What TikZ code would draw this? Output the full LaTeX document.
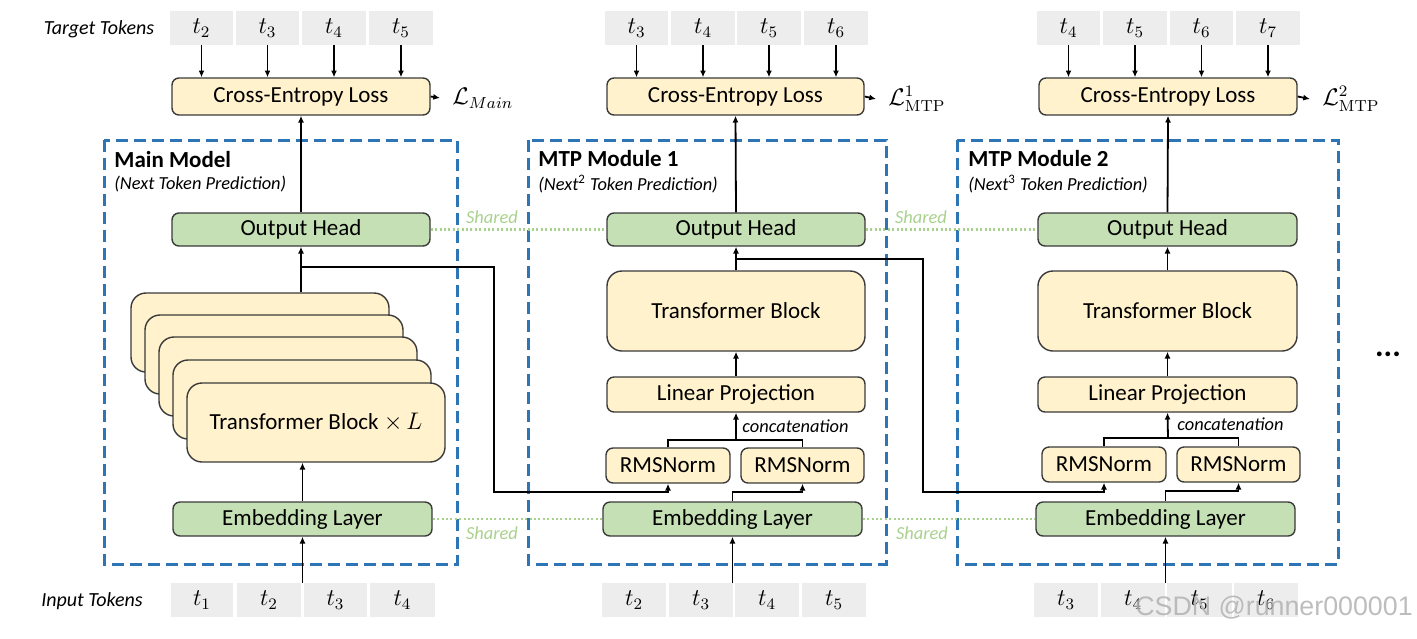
\documentclass[tikz,border=0pt]{standalone}
\usepackage[no-math]{fontspec}
\setmainfont{Carlito}
\newfontfamily\wmfont{Liberation Sans}
\usetikzlibrary{arrows.meta}
\definecolor{yel}{HTML}{FFF2CC}
\definecolor{grn}{HTML}{C5E0B4}
\definecolor{tok}{HTML}{EDEDED}
\definecolor{blu}{HTML}{2E75B6}
\definecolor{shr}{HTML}{A9D18E}
\definecolor{edg}{HTML}{3A3A3A}
\tikzset{
  pos/.style n args={4}{at={({(#1+#3)/2},{(#2+#4)/2})}, minimum width={(#3-#1)*0.5pt}, minimum height={(#4-#2)*0.5pt}},
  boxbase/.style={draw=edg, line width=0.7pt, rounded corners=3.5pt, inner sep=0pt, font=\fontsize{11.5}{13}\selectfont},
  ybox/.style={boxbase, fill=yel},
  gbox/.style={boxbase, fill=grn},
  tfbox/.style={boxbase, fill=yel, rounded corners=7.5pt},
  tokbox/.style={fill=tok, inner sep=0pt, font=\fontsize{12}{13}\selectfont},
  frame/.style={draw=blu, line width=1.5pt, dash pattern=on 6pt off 3pt},
  arr/.style={-{Latex[length=3.4pt,width=3pt]}, line width=0.9pt},
  ln/.style={line width=0.9pt},
  shline/.style={draw=shr, line width=1.1pt, dash pattern=on 1pt off 1.2pt},
  shtext/.style={text=shr, font=\fontsize{9.2}{11}\selectfont\itshape},
  ttl/.style={anchor=west, inner sep=0pt, font=\fontsize{11.5}{13}\selectfont\bfseries},
  sub/.style={anchor=west, inner sep=0pt, font=\fontsize{9.2}{11}\selectfont\itshape},
  lbl/.style={font=\fontsize{10}{12}\selectfont\itshape},
  loss/.style={anchor=west, inner xsep=6pt, inner ysep=0pt, font=\fontsize{12}{14}\selectfont},
}
\begin{document}
\begin{tikzpicture}[x=0.5pt,y=-0.5pt]
\useasboundingbox (0,0) rectangle (1417,638);

% ---------- frames ----------
\draw[frame] (104,140) rectangle (457,564);
\draw[frame] (528,140) rectangle (886,564);
\draw[frame] (957,140) rectangle (1338,564);

\node[ttl] (t1) at (114,160) {Main Model};
\node[sub] (s1) at (114,184) {(Next Token Prediction)};
\node[ttl] (t2) at (538,159) {MTP Module 1};
\node[sub] (s2) at (538,184) {(Next\textsuperscript{\upshape 2} Token Prediction)};
\node[ttl] (t3) at (968,159) {MTP Module 2};
\node[sub] (s3) at (968,184) {(Next\textsuperscript{\upshape 3} Token Prediction)};

% ---------- labels ----------
\node[lbl] (tgl) at (99,29) {Target Tokens};
\node[lbl] (inl) at (92,601) {Input Tokens};

% ---------- target tokens ----------
\node[tokbox, pos={170}{11}{233}{45}] (ga1) {$t_2$};
\node[tokbox, pos={236}{11}{299}{45}] (ga2) {$t_3$};
\node[tokbox, pos={302}{11}{366}{45}] (ga3) {$t_4$};
\node[tokbox, pos={369}{11}{433}{45}] (ga4) {$t_5$};
\node[tokbox, pos={605}{11}{668}{45}] (gb1) {$t_3$};
\node[tokbox, pos={671}{11}{735}{45}] (gb2) {$t_4$};
\node[tokbox, pos={737}{11}{801}{45}] (gb3) {$t_5$};
\node[tokbox, pos={804}{11}{868}{45}] (gb4) {$t_6$};
\node[tokbox, pos={1037}{11}{1100}{45}] (gc1) {$t_4$};
\node[tokbox, pos={1103}{11}{1167}{45}] (gc2) {$t_5$};
\node[tokbox, pos={1170}{11}{1233}{45}] (gc3) {$t_6$};
\node[tokbox, pos={1236}{11}{1300}{45}] (gc4) {$t_7$};

% ---------- input tokens ----------
\node[tokbox, pos={171}{583}{233}{617}] (ia1) {$t_1$};
\node[tokbox, pos={237}{583}{301}{617}] (ia2) {$t_2$};
\node[tokbox, pos={304}{583}{367}{617}] (ia3) {$t_3$};
\node[tokbox, pos={370}{583}{435}{617}] (ia4) {$t_4$};
\node[tokbox, pos={602}{583}{666}{617}] (ib1) {$t_2$};
\node[tokbox, pos={669}{583}{733}{617}] (ib2) {$t_3$};
\node[tokbox, pos={735}{583}{799}{617}] (ib3) {$t_4$};
\node[tokbox, pos={802}{583}{866}{617}] (ib4) {$t_5$};
\node[tokbox, pos={1034}{583}{1098}{617}] (ic1) {$t_3$};
\node[tokbox, pos={1101}{583}{1165}{617}] (ic2) {$t_4$};
\node[tokbox, pos={1167}{583}{1232}{617}] (ic3) {$t_5$};
\node[tokbox, pos={1234}{583}{1298}{617}] (ic4) {$t_6$};

% ---------- cross-entropy ----------
\node[ybox, pos={172}{78}{430}{115}] (ce1) {Cross-Entropy Loss};
\node[ybox, pos={607}{78}{864}{115}] (ce2) {Cross-Entropy Loss};
\node[ybox, pos={1039}{78}{1297}{115}] (ce3) {Cross-Entropy Loss};
\foreach \n in {ga1,ga2,ga3,ga4} \draw[arr] (\n.south) -- (\n.south |- ce1.north);
\foreach \n in {gb1,gb2,gb3,gb4} \draw[arr] (\n.south) -- (\n.south |- ce2.north);
\foreach \n in {gc1,gc2,gc3,gc4} \draw[arr] (\n.south) -- (\n.south |- ce3.north);

\node[loss] (l1) at (440,98) {$\mathcal{L}_{Main}$};
\node[loss] (l2) at (876,99) {$\mathcal{L}^{1}_{\mathrm{MTP}}$};
\node[loss] (l3) at (1310,99) {$\mathcal{L}^{2}_{\mathrm{MTP}}$};
\draw[arr] (ce1.east) -- (l1.west);
\draw[arr] (ce2.east) -- (l2.west);
\draw[arr] (ce3.east) -- (l3.west);

% ---------- output heads ----------
\node[gbox, pos={172}{213}{430}{246}] (oh1) {Output Head};
\node[gbox, pos={607}{213}{865}{246}] (oh2) {Output Head};
\node[gbox, pos={1038}{213}{1297}{246}] (oh3) {Output Head};
\draw[arr] (oh1.north) -- (ce1.south);
\draw[arr] (oh2.north) -- (ce2.south);
\draw[arr] (oh3.north) -- (ce3.south);

% ---------- embeddings ----------
\node[gbox, pos={173}{502}{432}{536}] (em1) {Embedding Layer};
\node[gbox, pos={603}{502}{862}{536}] (em2) {Embedding Layer};
\node[gbox, pos={1036}{502}{1295}{536}] (em3) {Embedding Layer};
\draw[arr] (em1.south |- ia1.north) -- (em1.south);
\draw[arr] (em2.south |- ib1.north) -- (em2.south);
\draw[arr] (em3.south |- ic1.north) -- (em3.south);

% ---------- shared ----------
\draw[shline] (oh1.east) -- (oh2.west);
\draw[shline] (oh2.east) -- (oh3.west);
\draw[shline] (em1.east) -- (em2.west);
\draw[shline] (em2.east) -- (em3.west);
\node[shtext] (sh1) at (492,217) {Shared};
\node[shtext] (sh2) at (921,217) {Shared};
\node[shtext] (sh3) at (492,533) {Shared};
\node[shtext] (sh4) at (922,533) {Shared};

% ---------- main model stack ----------
\node[tfbox, pos={131}{293}{389}{372}] (k1) {};
\node[tfbox, pos={145}{315}{403}{394}] (k2) {};
\node[tfbox, pos={159}{337}{417}{416}] (k3) {};
\node[tfbox, pos={173}{360}{431}{439}] (k4) {};
\node[tfbox, pos={187}{383}{445}{462}] (k5) {Transformer Block $\times\, L$};
\draw[arr] (em1.north) -- (em1.north |- k5.south);
\draw[arr] (oh1.south |- k1.north) -- (oh1.south);

% ---------- module 1 ----------
\node[tfbox, pos={607}{271}{865}{351}] (tb2) {Transformer Block};
\node[ybox, pos={607}{377}{865}{412}] (lp2) {Linear Projection};
\node[ybox, pos={606}{448}{730}{483}] (rl2) {RMSNorm};
\node[ybox, pos={741}{448}{864}{483}] (rr2) {RMSNorm};
\draw[arr] (tb2.north) -- (oh2.south);
\draw[arr] (lp2.north) -- (tb2.south);
\coordinate (jc2) at (736,440);
\draw[ln] (rl2.north) |- (jc2) -| (rr2.north);
\draw[arr] (jc2) -- (lp2.south);
\node[sub] (cc2) at (742,426) {concatenation};
\draw[arr] (em2.north) -- ++(0,-9) -| (rr2.south);

% ---------- module 2 ----------
\node[tfbox, pos={1038}{271}{1297}{351}] (tb3) {Transformer Block};
\node[ybox, pos={1038}{377}{1297}{412}] (lp3) {Linear Projection};
\node[ybox, pos={1042}{447}{1166}{482}] (rl3) {RMSNorm};
\node[ybox, pos={1177}{447}{1300}{482}] (rr3) {RMSNorm};
\draw[arr] (tb3.north) -- (oh3.south);
\draw[arr] (lp3.north) -- (tb3.south);
\coordinate (jc3) at (1168,438);
\draw[ln] (rl3.north) |- (jc3) -| (rr3.north);
\draw[arr] (jc3) -- (lp3.south);
\node[sub] (cc3) at (1177,424) {concatenation};
\draw[arr] (em3.north) -- ++(0,-10) -| (rr3.south);

% ---------- cross-module links ----------
\coordinate (j1) at (301,267);
\coordinate (c1) at (494,492);
\draw[arr] (j1) -| (c1) -| (rl2.south);
\coordinate (j2) at (736,259);
\coordinate (c2) at (923,492);
\draw[arr] (j2) -| (c2) -| (rl3.south);

% ---------- dots & watermark ----------
\node[font=\fontsize{16}{16}\selectfont\bfseries] (dots) at (1388,354) {...};
\node[text=black!30, opacity=0.85, font=\wmfont\fontsize{13.4}{15}\selectfont] (wm) at (1274,608) {CSDN @runner000001};
\end{tikzpicture}
\end{document}
